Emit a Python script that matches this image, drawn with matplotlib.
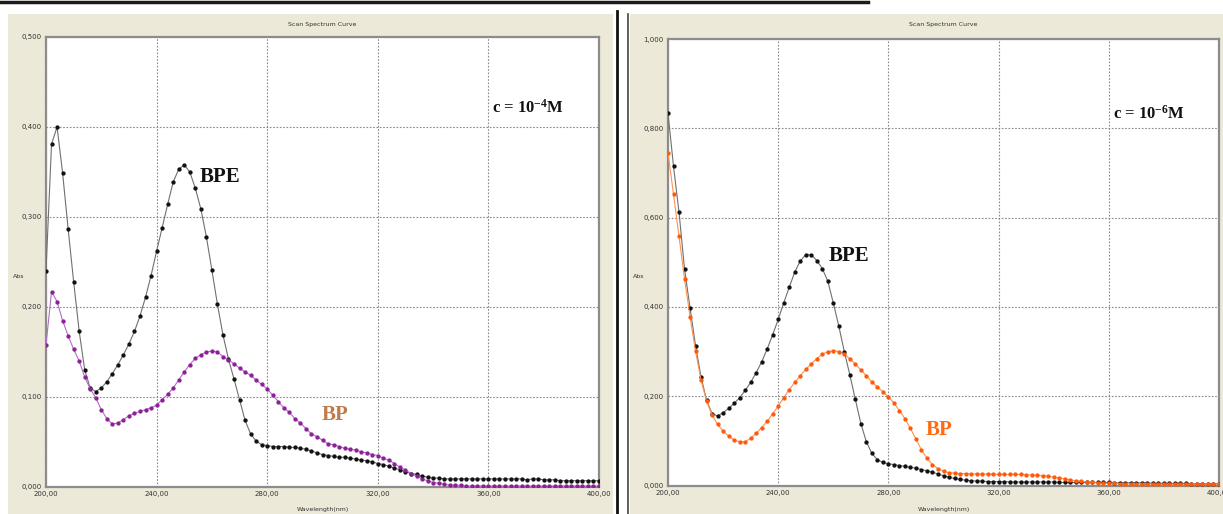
import numpy as np
import matplotlib
matplotlib.use("Agg")
import matplotlib.pyplot as plt
from matplotlib.patches import Rectangle
from matplotlib.lines import Line2D
from matplotlib.ticker import FuncFormatter

plt.rcParams['mathtext.fontset'] = 'custom'
plt.rcParams['mathtext.rm'] = 'Liberation Serif:bold'
plt.rcParams['mathtext.it'] = 'Liberation Serif:bold'
plt.rcParams['mathtext.bf'] = 'Liberation Serif:bold'

# wavelength scan, 2 nm step
wavelength = np.arange(200, 401, 2)

# c = 1e-4 M
bpe_4 = [0.240, 0.381, 0.400, 0.349, 0.287, 0.228, 0.173, 0.130, 0.110, 0.106,
         0.110, 0.117, 0.126, 0.136, 0.147, 0.159, 0.173, 0.190, 0.211, 0.235,
         0.262, 0.288, 0.314, 0.339, 0.353, 0.358, 0.350, 0.332, 0.309, 0.278,
         0.241, 0.203, 0.169, 0.142, 0.120, 0.097, 0.074, 0.059, 0.051, 0.047,
         0.046, 0.045, 0.045, 0.045, 0.044, 0.044, 0.043, 0.042, 0.040, 0.038,
         0.036, 0.035, 0.034, 0.033, 0.033, 0.032, 0.031, 0.030, 0.029, 0.028,
         0.026, 0.025, 0.023, 0.021, 0.019, 0.017, 0.015, 0.014, 0.012, 0.011,
         0.010, 0.010, 0.009, 0.009, 0.009, 0.009, 0.009, 0.009, 0.009, 0.009,
         0.009, 0.009, 0.009, 0.009, 0.009, 0.009, 0.009, 0.008, 0.009, 0.009,
         0.008, 0.008, 0.008, 0.007, 0.007, 0.007, 0.007, 0.007, 0.007, 0.007,
         0.007]
bp_4 = [0.158, 0.217, 0.206, 0.185, 0.168, 0.153, 0.140, 0.122, 0.109, 0.099,
        0.086, 0.076, 0.070, 0.071, 0.075, 0.079, 0.082, 0.084, 0.086, 0.088,
        0.091, 0.097, 0.103, 0.110, 0.119, 0.128, 0.136, 0.143, 0.147, 0.150,
        0.151, 0.150, 0.145, 0.141, 0.137, 0.132, 0.128, 0.124, 0.119, 0.114,
        0.109, 0.102, 0.095, 0.088, 0.083, 0.076, 0.071, 0.065, 0.059, 0.056,
        0.052, 0.048, 0.047, 0.045, 0.043, 0.042, 0.041, 0.039, 0.038, 0.036,
        0.035, 0.032, 0.030, 0.026, 0.022, 0.019, 0.015, 0.012, 0.009, 0.007,
        0.005, 0.004, 0.003, 0.002, 0.002, 0.002, 0.001, 0.001, 0.001, 0.001,
        0.001, 0.001, 0.001, 0.001, 0.001, 0.001, 0.001, 0.001, 0.001, 0.001,
        0.001, 0.001, 0.001, 0.001, 0.001, 0.001, 0.001, 0.001, 0.001, 0.001,
        0.001]

# c = 1e-6 M
bpe_6 = [0.834, 0.715, 0.612, 0.485, 0.398, 0.313, 0.243, 0.191, 0.161, 0.156,
         0.163, 0.173, 0.184, 0.197, 0.213, 0.231, 0.253, 0.277, 0.306, 0.338,
         0.372, 0.409, 0.444, 0.478, 0.503, 0.517, 0.517, 0.504, 0.486, 0.458,
         0.409, 0.357, 0.300, 0.248, 0.193, 0.139, 0.098, 0.072, 0.058, 0.052,
         0.049, 0.047, 0.045, 0.043, 0.041, 0.039, 0.036, 0.033, 0.030, 0.026,
         0.022, 0.019, 0.016, 0.014, 0.012, 0.011, 0.010, 0.010, 0.009, 0.009,
         0.009, 0.009, 0.008, 0.008, 0.008, 0.008, 0.008, 0.008, 0.008, 0.008,
         0.008, 0.007, 0.007, 0.007, 0.007, 0.007, 0.007, 0.007, 0.007, 0.007,
         0.007, 0.006, 0.006, 0.006, 0.006, 0.006, 0.006, 0.006, 0.005, 0.005,
         0.005, 0.005, 0.005, 0.005, 0.005, 0.004, 0.004, 0.004, 0.004, 0.004,
         0.004]
bp_6 = [0.745, 0.652, 0.558, 0.463, 0.378, 0.301, 0.236, 0.189, 0.158, 0.137,
        0.122, 0.111, 0.102, 0.098, 0.098, 0.106, 0.117, 0.130, 0.144, 0.161,
        0.178, 0.197, 0.215, 0.231, 0.246, 0.260, 0.273, 0.284, 0.294, 0.300,
        0.302, 0.300, 0.294, 0.284, 0.272, 0.259, 0.246, 0.232, 0.221, 0.210,
        0.199, 0.185, 0.168, 0.150, 0.128, 0.104, 0.080, 0.061, 0.047, 0.038,
        0.032, 0.029, 0.028, 0.027, 0.027, 0.026, 0.026, 0.026, 0.026, 0.026,
        0.025, 0.025, 0.025, 0.025, 0.025, 0.024, 0.024, 0.023, 0.022, 0.021,
        0.019, 0.017, 0.015, 0.013, 0.011, 0.010, 0.008, 0.007, 0.006, 0.005,
        0.005, 0.005, 0.004, 0.004, 0.004, 0.004, 0.004, 0.004, 0.003, 0.003,
        0.003, 0.003, 0.003, 0.003, 0.003, 0.003, 0.003, 0.003, 0.003, 0.003,
        0.003]

W, H = 1223, 514
fig = plt.figure(figsize=(W / 100, H / 100), dpi=100)
fig.patch.set_facecolor('white')


def box(x0, y0, x1, y1):
    # pixel box (top-left origin) -> figure fraction rect
    return [x0 / W, 1 - y1 / H, (x1 - x0) / W, (y1 - y0) / H]


beige = '#ece9d8'
fig.patches.append(Rectangle((8 / W, 0), (613 - 8) / W, (H - 14) / H,
                             transform=fig.transFigure, facecolor=beige,
                             edgecolor='none', zorder=-5))
fig.patches.append(Rectangle((630 / W, 0), (W - 630) / W, (H - 14) / H,
                             transform=fig.transFigure, facecolor=beige,
                             edgecolor='none', zorder=-5))
fig.lines.append(Line2D([0, 868 / W], [1 - 1.5 / H] * 2, transform=fig.transFigure,
                        color='#1a1a1a', lw=2.5, zorder=-4))
fig.lines.append(Line2D([617 / W] * 2, [0, 1 - 11 / H], transform=fig.transFigure,
                        color='#111111', lw=2, zorder=-4))
fig.lines.append(Line2D([628 / W] * 2, [0, 1 - 14 / H], transform=fig.transFigure,
                        color='#444444', lw=1.2, zorder=-4))

ax1 = fig.add_axes(box(46, 37, 599, 487))
ax2 = fig.add_axes(box(668, 39, 1219, 485.6))

yfmt = FuncFormatter(lambda v, p: f"{v:.3f}".replace('.', ','))
xfmt = FuncFormatter(lambda v, p: f"{v:.2f}".replace('.', ','))

for ax, ymax, ystep in [(ax1, 0.5, 0.1), (ax2, 1.0, 0.2)]:
    ax.set_facecolor('white')
    ax.set_xlim(200, 400)
    ax.set_ylim(0, ymax)
    ax.set_xticks(np.arange(200, 401, 40))
    ax.set_yticks(np.arange(0, ymax + 1e-9, ystep))
    ax.xaxis.set_major_formatter(xfmt)
    ax.yaxis.set_major_formatter(yfmt)
    ax.tick_params(length=0, labelsize=5, colors='#333333', pad=3)
    ax.grid(True, color='#8a8a8a', linestyle=(0, (1.5, 1.5)), lw=0.8)
    ax.set_axisbelow(True)
    for s in ax.spines.values():
        s.set_color('#8c8c8c')
        s.set_linewidth(1.6)

ax1.plot(wavelength, bpe_4, color='#707070', lw=0.8, marker='o', ms=2.1,
         mfc='#111111', mec='#111111', zorder=3)
ax1.plot(wavelength, bp_4, color='#b070c0', lw=0.8, marker='o', ms=2.1,
         mfc='#8e1f9a', mec='#8e1f9a', zorder=4)

ax2.plot(wavelength, bpe_6, color='#707070', lw=0.8, marker='o', ms=2.1,
         mfc='#111111', mec='#111111', zorder=3)
ax2.plot(wavelength, bp_6, color='#ff9050', lw=0.8, marker='o', ms=2.1,
         mfc='#ff5a0a', mec='#ff5a0a', zorder=4)

serif = dict(family='Liberation Serif', weight='bold')
ax1.text(255.7, 0.345, 'BPE', fontsize=15, color='#111111', va='center', ha='left', **serif)
ax1.text(299.8, 0.080, 'BP', fontsize=15, color='#c07a4c', va='center', ha='left', **serif)
ax1.text(361.3, 0.421, 'c = 10$^{-4}$M', fontsize=12, color='#111111', va='center', ha='left', **serif)

ax2.text(258.2, 0.514, 'BPE', fontsize=15, color='#111111', va='center', ha='left', **serif)
ax2.text(293.5, 0.125, 'BP', fontsize=15, color='#ff6a14', va='center', ha='left', **serif)
ax2.text(361.5, 0.832, 'c = 10$^{-6}$M', fontsize=12, color='#111111', va='center', ha='left', **serif)

for cx in [(46 + 599) / 2, (668 + 1219) / 2]:
    fig.text(cx / W, 1 - 24 / H, 'Scan Spectrum Curve', fontsize=4.5, color='#333333',
             ha='center', va='center')
    fig.text(cx / W, 1 - 509 / H, 'Wavelength(nm)', fontsize=4.5, color='#333333',
             ha='center', va='center')
fig.text(13 / W, 1 - 277 / H, 'Abs', fontsize=4.5, color='#333333', ha='left', va='center')
fig.text(633 / W, 1 - 277 / H, 'Abs', fontsize=4.5, color='#333333', ha='left', va='center')

fig.savefig('out.png', dpi=100)
